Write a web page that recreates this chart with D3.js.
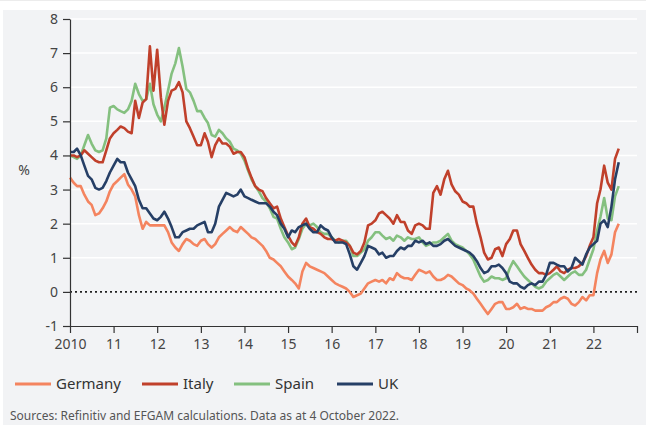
<!DOCTYPE html>
<html>
<head>
<meta charset="utf-8">
<script src="https://cdn.jsdelivr.net/npm/d3@7"></script>
<style>
  body { margin: 0; background: #fff; }
  svg { display: block; font-family: 'Noto Sans', sans-serif; }
</style>
</head>
<body>
<div id="vis"></div>
<script>
// monthly 10y yields, Jan 2010 .. Aug 2022
var germany = [
  3.35, 3.2, 3.1, 3.1, 2.85, 2.65, 2.55, 2.25, 2.3, 2.45, 2.65, 2.95, // 2010
  3.15, 3.25, 3.35, 3.45, 3.15, 3.0, 2.8, 2.25, 1.85, 2.05, 1.95, 1.95, // 2011
  1.95, 1.95, 1.95, 1.75, 1.45, 1.3, 1.2, 1.4, 1.55, 1.5, 1.4, 1.35, // 2012
  1.5, 1.55, 1.4, 1.3, 1.4, 1.6, 1.7, 1.8, 1.9, 1.8, 1.75, 1.9, // 2013
  1.8, 1.7, 1.6, 1.55, 1.45, 1.35, 1.2, 1.0, 0.95, 0.85, 0.75, 0.6, // 2014
  0.45, 0.35, 0.25, 0.1, 0.6, 0.85, 0.75, 0.7, 0.65, 0.6, 0.55, 0.45, // 2015
  0.35, 0.25, 0.2, 0.15, 0.1, 0.0, -0.15, -0.1, -0.05, 0.1, 0.25, 0.3, // 2016
  0.35, 0.3, 0.35, 0.25, 0.4, 0.35, 0.55, 0.45, 0.4, 0.4, 0.35, 0.5, // 2017
  0.65, 0.6, 0.55, 0.6, 0.45, 0.35, 0.35, 0.4, 0.5, 0.45, 0.35, 0.25, // 2018
  0.2, 0.1, 0.05, -0.05, -0.2, -0.35, -0.5, -0.65, -0.5, -0.35, -0.3, -0.3, // 2019
  -0.5, -0.5, -0.45, -0.35, -0.5, -0.45, -0.5, -0.5, -0.55, -0.55, -0.55, -0.45, // 2020
  -0.4, -0.3, -0.3, -0.2, -0.15, -0.2, -0.35, -0.4, -0.3, -0.15, -0.25, -0.1, // 2021
  -0.1, 0.55, 0.95, 1.2, 0.85, 1.1, 1.75, 2.0 // 2022
];

var italy = [
  4.0, 4.0, 3.95, 4.0, 4.15, 4.05, 3.95, 3.85, 3.8, 3.8, 4.15, 4.5, // 2010
  4.65, 4.75, 4.85, 4.8, 4.7, 4.65, 5.6, 5.1, 5.55, 5.65, 7.2, 5.9, // 2011
  7.1, 5.7, 4.9, 5.6, 5.9, 5.95, 6.15, 5.85, 5.0, 4.8, 4.55, 4.3, // 2012
  4.3, 4.65, 4.4, 3.95, 4.3, 4.5, 4.35, 4.35, 4.25, 4.05, 4.1, 4.1, // 2013
  3.95, 3.6, 3.35, 3.1, 3.0, 2.95, 2.75, 2.6, 2.45, 2.5, 2.15, 1.9, // 2014
  1.65, 1.45, 1.35, 1.6, 2.0, 2.15, 1.9, 1.85, 1.75, 1.7, 1.6, 1.55, // 2015
  1.55, 1.5, 1.55, 1.5, 1.45, 1.35, 1.15, 1.1, 1.2, 1.45, 1.95, 2.0, // 2016
  2.1, 2.3, 2.35, 2.25, 2.15, 2.0, 2.25, 2.05, 2.05, 1.8, 1.7, 1.95, // 2017
  2.0, 1.95, 1.85, 1.85, 2.9, 3.1, 2.85, 3.3, 3.55, 3.15, 2.95, 2.85, // 2018
  2.65, 2.6, 2.5, 2.5, 2.0, 1.6, 1.15, 0.95, 1.0, 1.25, 1.3, 1.05, // 2019
  1.4, 1.55, 1.8, 1.8, 1.4, 1.2, 1.0, 0.8, 0.65, 0.55, 0.55, 0.5, // 2020
  0.55, 0.65, 0.75, 0.6, 0.55, 0.65, 0.7, 0.7, 0.75, 0.85, 1.05, 1.35, // 2021
  1.6, 2.6, 3.0, 3.7, 3.2, 3.0, 3.9, 4.2 // 2022
];

var spain = [
  4.0, 3.95, 3.9, 4.0, 4.3, 4.6, 4.35, 4.15, 4.1, 4.15, 4.5, 5.4, // 2010
  5.45, 5.35, 5.3, 5.25, 5.35, 5.6, 6.1, 5.8, 5.6, 5.65, 6.1, 5.5, // 2011
  5.2, 5.0, 5.4, 5.9, 6.4, 6.7, 7.15, 6.6, 5.95, 5.85, 5.6, 5.3, // 2012
  5.3, 5.1, 4.95, 4.6, 4.55, 4.75, 4.65, 4.5, 4.4, 4.2, 4.15, 4.05, // 2013
  3.85, 3.55, 3.3, 3.1, 2.95, 2.75, 2.65, 2.45, 2.2, 2.15, 1.85, 1.6, // 2014
  1.45, 1.25, 1.3, 1.55, 1.85, 2.0, 1.95, 2.0, 1.9, 1.75, 1.7, 1.7, // 2015
  1.6, 1.5, 1.45, 1.5, 1.5, 1.35, 1.05, 1.05, 1.15, 1.25, 1.5, 1.6, // 2016
  1.75, 1.75, 1.65, 1.55, 1.6, 1.5, 1.65, 1.6, 1.5, 1.6, 1.55, 1.55, // 2017
  1.6, 1.45, 1.35, 1.4, 1.45, 1.45, 1.5, 1.6, 1.7, 1.5, 1.4, 1.35, // 2018
  1.3, 1.2, 1.1, 0.95, 0.7, 0.45, 0.3, 0.35, 0.45, 0.4, 0.4, 0.35, // 2019
  0.4, 0.7, 0.9, 0.75, 0.6, 0.45, 0.35, 0.25, 0.15, 0.1, 0.15, 0.3, // 2020
  0.4, 0.5, 0.55, 0.45, 0.35, 0.45, 0.55, 0.6, 0.5, 0.5, 0.65, 0.95, // 2021
  1.25, 1.8, 2.2, 2.75, 2.15, 2.1, 2.8, 3.1 // 2022
];

var uk = [
  4.1, 4.1, 4.2, 4.0, 3.7, 3.4, 3.3, 3.05, 3.0, 3.05, 3.25, 3.5, // 2010
  3.7, 3.9, 3.8, 3.8, 3.5, 3.3, 3.1, 2.7, 2.45, 2.45, 2.3, 2.15, // 2011
  2.1, 2.2, 2.35, 2.15, 1.9, 1.6, 1.6, 1.75, 1.8, 1.85, 1.85, 1.95, // 2012
  2.0, 2.05, 1.75, 1.75, 2.0, 2.5, 2.7, 2.9, 2.85, 2.8, 2.85, 3.0, // 2013
  2.8, 2.75, 2.7, 2.65, 2.6, 2.6, 2.6, 2.5, 2.35, 2.25, 2.0, 1.85, // 2014
  1.6, 1.8, 1.75, 1.9, 1.95, 2.0, 1.85, 1.75, 1.75, 1.95, 1.85, 1.8, // 2015
  1.6, 1.45, 1.45, 1.45, 1.4, 1.1, 0.75, 0.65, 0.85, 1.05, 1.35, 1.3, // 2016
  1.25, 1.1, 1.15, 1.0, 1.05, 1.05, 1.2, 1.3, 1.25, 1.35, 1.35, 1.5, // 2017
  1.45, 1.5, 1.4, 1.45, 1.35, 1.35, 1.4, 1.5, 1.55, 1.45, 1.35, 1.3, // 2018
  1.25, 1.2, 1.15, 1.05, 0.9, 0.7, 0.55, 0.6, 0.75, 0.75, 0.8, 0.7, // 2019
  0.55, 0.3, 0.25, 0.25, 0.15, 0.1, 0.2, 0.25, 0.2, 0.3, 0.3, 0.5, // 2020
  0.85, 0.85, 0.8, 0.75, 0.75, 0.6, 0.7, 1.0, 0.9, 0.8, 1.1, 1.3, // 2021
  1.4, 1.5, 2.0, 2.1, 1.9, 2.5, 3.3, 3.8 // 2022
];

var seriesNames = ['Germany', 'Italy', 'Spain', 'UK'];
var seriesColors = ['#f4845f', '#c0402b', '#84c07f', '#263f66'];
var yTicks = [-1, 0, 1, 2, 3, 4, 5, 6, 7, 8];
var xTickYears = [2010, 2011, 2012, 2013, 2014, 2015, 2016, 2017, 2018, 2019, 2020, 2021, 2022, 2023];
var xTickLabels = ['2010', '11', '12', '13', '14', '15', '16', '17', '18', '19', '20', '21', '22', ''];
var sourceText = 'Sources: Refinitiv and EFGAM calculations. Data as at 4 October 2022.';

var width = 646;
var height = 425;
var margin = { top: 19, left: 70, bottom: 99, right: 9 };

var months = d3.timeMonth.range(new Date(2010, 0, 1), new Date(2022, 8, 1));
var values = [germany, italy, spain, uk];

var svg = d3.select('#vis').append('svg').attr('width', width).attr('height', height);

// panel background
svg.append('rect').attr('x', 0).attr('y', 0).attr('width', width).attr('height', 1).attr('fill', '#ececec');
svg.append('rect').attr('x', 3).attr('y', 10).attr('width', width - 3).attr('height', height - 10).attr('fill', '#f2f3f5');

var x = d3
  .scaleTime()
  .domain([new Date(2010, 0, 1), new Date(2023, 0, 1)])
  .range([margin.left, width - margin.right]);

var y = d3
  .scaleLinear()
  .domain([-1, 8])
  .range([height - margin.bottom, margin.top]);

// white gridlines
svg
  .append('g')
  .selectAll('line')
  .data(yTicks.filter((d) => d > 0))
  .enter()
  .append('line')
  .attr('x1', x.range()[0])
  .attr('x2', x.range()[1])
  .attr('y1', (d) => y(d))
  .attr('y2', (d) => y(d))
  .attr('stroke', '#ffffff')
  .attr('stroke-width', 1.5);

// dotted zero line
svg
  .append('line')
  .attr('x1', x.range()[0])
  .attr('x2', x.range()[1])
  .attr('y1', y(0))
  .attr('y2', y(0))
  .attr('stroke', '#222')
  .attr('stroke-width', 1.6)
  .attr('stroke-dasharray', '2,3');

// lines (Italy drawn over Spain, UK on top)
var drawOrder = [0, 2, 1, 3];
var line = d3
  .line()
  .x((d) => x(d.date))
  .y((d) => y(d.value));

drawOrder.forEach(function (i) {
  var pts = months.map((m, j) => ({ date: m, value: values[i][j] }));
  svg
    .append('path')
    .datum(pts)
    .attr('fill', 'none')
    .attr('stroke', seriesColors[i])
    .attr('stroke-width', 2.6)
    .attr('stroke-linejoin', 'round')
    .attr('d', line);
});

// axes
var yAxis = svg
  .append('g')
  .attr('transform', 'translate(' + margin.left + ',0)')
  .call(d3.axisLeft(y).tickValues(yTicks).tickFormat((d) => (d < 0 ? '-' + Math.abs(d) : d)).tickSize(7).tickSizeOuter(0).tickPadding(5));

var xAxis = svg
  .append('g')
  .attr('transform', 'translate(0,' + y(-1) + ')')
  .call(
    d3
      .axisBottom(x)
      .tickValues(xTickYears.map((yr) => new Date(yr, 0, 1)))
      .tickFormat((d, i) => xTickLabels[i])
      .tickSize(7)
      .tickSizeOuter(0)
      .tickPadding(6)
  );

[yAxis, xAxis].forEach(function (a) {
  a.select('.domain').attr('stroke', '#333').attr('stroke-width', 1.2);
  a.selectAll('.tick line').attr('stroke', '#333').attr('stroke-width', 1.2);
  a.selectAll('.tick text').attr('fill', '#444').attr('font-size', 14).attr('font-family', 'Noto Sans');
});

svg
  .append('text')
  .attr('x', 24)
  .attr('y', 175)
  .attr('text-anchor', 'middle')
  .attr('font-size', 14)
  .attr('fill', '#444')
  .text('%');

// legend
var legendX = [15, 142, 234, 337];
var legend = svg
  .append('g')
  .selectAll('g')
  .data(seriesNames)
  .enter()
  .append('g')
  .attr('transform', (d, i) => 'translate(' + legendX[i] + ',384)');

legend
  .append('line')
  .attr('x1', 0)
  .attr('x2', 36)
  .attr('stroke', (d, i) => seriesColors[i])
  .attr('stroke-width', 3);

legend
  .append('text')
  .attr('x', 41)
  .attr('dy', '0.35em')
  .attr('font-size', 15)
  .attr('fill', '#333')
  .text((d) => d);

svg
  .append('text')
  .attr('x', 10)
  .attr('y', 420)
  .attr('font-size', 12)
  .attr('fill', '#555')
  .text(sourceText);
</script>
</body>
</html>
